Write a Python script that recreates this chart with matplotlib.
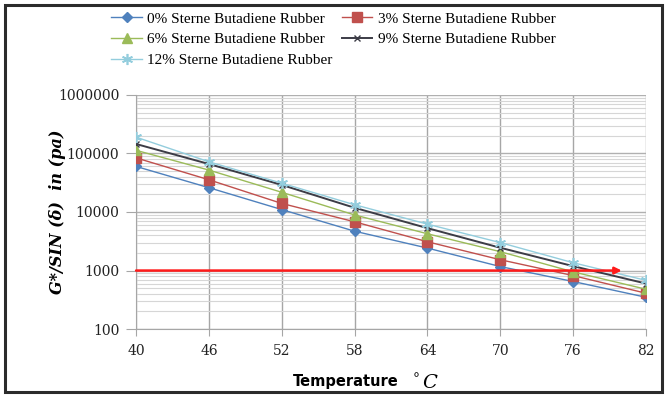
import matplotlib.pyplot as plt
from matplotlib.patches import Rectangle
from matplotlib.ticker import LogLocator, NullFormatter

temps = [40, 46, 52, 58, 64, 70, 76, 82]

sbr_0 = [60000, 26000, 11000, 4700, 2420, 1170, 650, 350]
sbr_3 = [84000, 35500, 14000, 6800, 3100, 1530, 820, 410]
sbr_6 = [113000, 52000, 21700, 8900, 4250, 2100, 950, 480]
sbr_9 = [145000, 66000, 29000, 11800, 5300, 2450, 1190, 600]
sbr_12 = [190000, 72000, 31000, 13300, 6200, 3000, 1360, 680]

labels = ['0% Sterne Butadiene Rubber', '3% Sterne Butadiene Rubber',
          '6% Sterne Butadiene Rubber', '9% Sterne Butadiene Rubber',
          '12% Sterne Butadiene Rubber']

arrow_y = 1000
arrow_x = [40, 80]

fig = plt.figure(figsize=(6.67, 3.97), dpi=100)
ax = fig.add_axes([0.204, 0.171, 0.7645, 0.59])

styles = [
    dict(color='#4F81BD', marker='D', ms=5, mec='#4F81BD'),
    dict(color='#C0504D', marker='s', ms=6.5, mec='#C0504D'),
    dict(color='#9BBB59', marker='^', ms=7, mec='#9BBB59'),
    dict(color='#3c3c46', marker='x', ms=5, mew=1, lw=1.4),
    dict(color='#93CDDD', marker=(6, 2, 0), ms=8, mew=1.2),
]
series = [sbr_0, sbr_3, sbr_6, sbr_9, sbr_12]

handles = []
for vals, st, lab in zip(series, styles, labels):
    kw = dict(lw=1.0)
    kw.update(st)
    h, = ax.plot(temps, vals, label=lab, zorder=3, **kw)
    handles.append(h)

# red reference arrow at 1000 pa
ax.annotate('', xy=(arrow_x[1], arrow_y), xytext=(arrow_x[0], arrow_y),
            arrowprops=dict(arrowstyle='-|>', color='#ff1a1a', lw=1.8,
                            mutation_scale=10, shrinkA=0, shrinkB=0),
            zorder=4)

ax.set_yscale('log')
ax.set_ylim(100, 1000000)
ax.set_xlim(40, 82)
ax.set_xticks(temps)
ax.set_yticks([100, 1000, 10000, 100000, 1000000])
ax.set_yticklabels(['100', '1000', '10000', '100000', '1000000'])
ax.yaxis.set_minor_locator(LogLocator(base=10, subs=range(2, 10)))
ax.yaxis.set_minor_formatter(NullFormatter())

ax.grid(True, which='major', axis='x', color='#a6a6a6', lw=1.0)
ax.grid(True, which='major', axis='y', color='#b0b0b0', lw=1.0)
ax.grid(True, which='minor', axis='y', color='#d6d6d6', lw=0.8)
ax.set_axisbelow(True)

for s in ['top', 'right']:
    ax.spines[s].set_visible(False)
for s in ['left', 'bottom']:
    ax.spines[s].set_color('#a6a6a6')
ax.tick_params(axis='both', which='major', colors='#a6a6a6',
               labelcolor='#222222')
ax.tick_params(axis='x', which='major', length=5, pad=6)
ax.tick_params(axis='y', which='major', length=7, pad=5)
ax.tick_params(axis='y', which='minor', length=0)
for t in ax.get_xticklabels() + ax.get_yticklabels():
    t.set_family('DejaVu Serif')
    t.set_fontsize(10)

ax.set_ylabel('G*/SIN (δ)  in (pa)', family='DejaVu Serif', fontsize=11.5,
              fontweight='bold', style='italic')
ax.yaxis.set_label_coords(-0.138, 0.5)

fig.text(0.518, 0.039, 'Temperature', family='DejaVu Sans', fontweight='bold',
         fontsize=10.5, ha='center', va='center')
fig.text(0.619, 0.046, '°', family='DejaVu Serif', fontsize=10, ha='left', va='center')
fig.text(0.633, 0.036, 'C', family='DejaVu Serif', style='italic', fontsize=14,
         ha='left', va='center')

order = [0, 2, 4, 1, 3]
fig.legend([handles[i] for i in order], [labels[i] for i in order],
           loc='upper left', bbox_to_anchor=(0.158, 0.985), ncol=2, frameon=False,
           prop={'family': 'Liberation Serif', 'size': 11},
           handlelength=2.0, handletextpad=0.35, columnspacing=0.6,
           labelspacing=0.45, borderaxespad=0)

fig.patches.append(Rectangle((0.008, 0.012), 0.985, 0.976, transform=fig.transFigure,
                             fill=False, ec='#2b2b2b', lw=2.2))

fig.savefig('out.png', dpi=100)
